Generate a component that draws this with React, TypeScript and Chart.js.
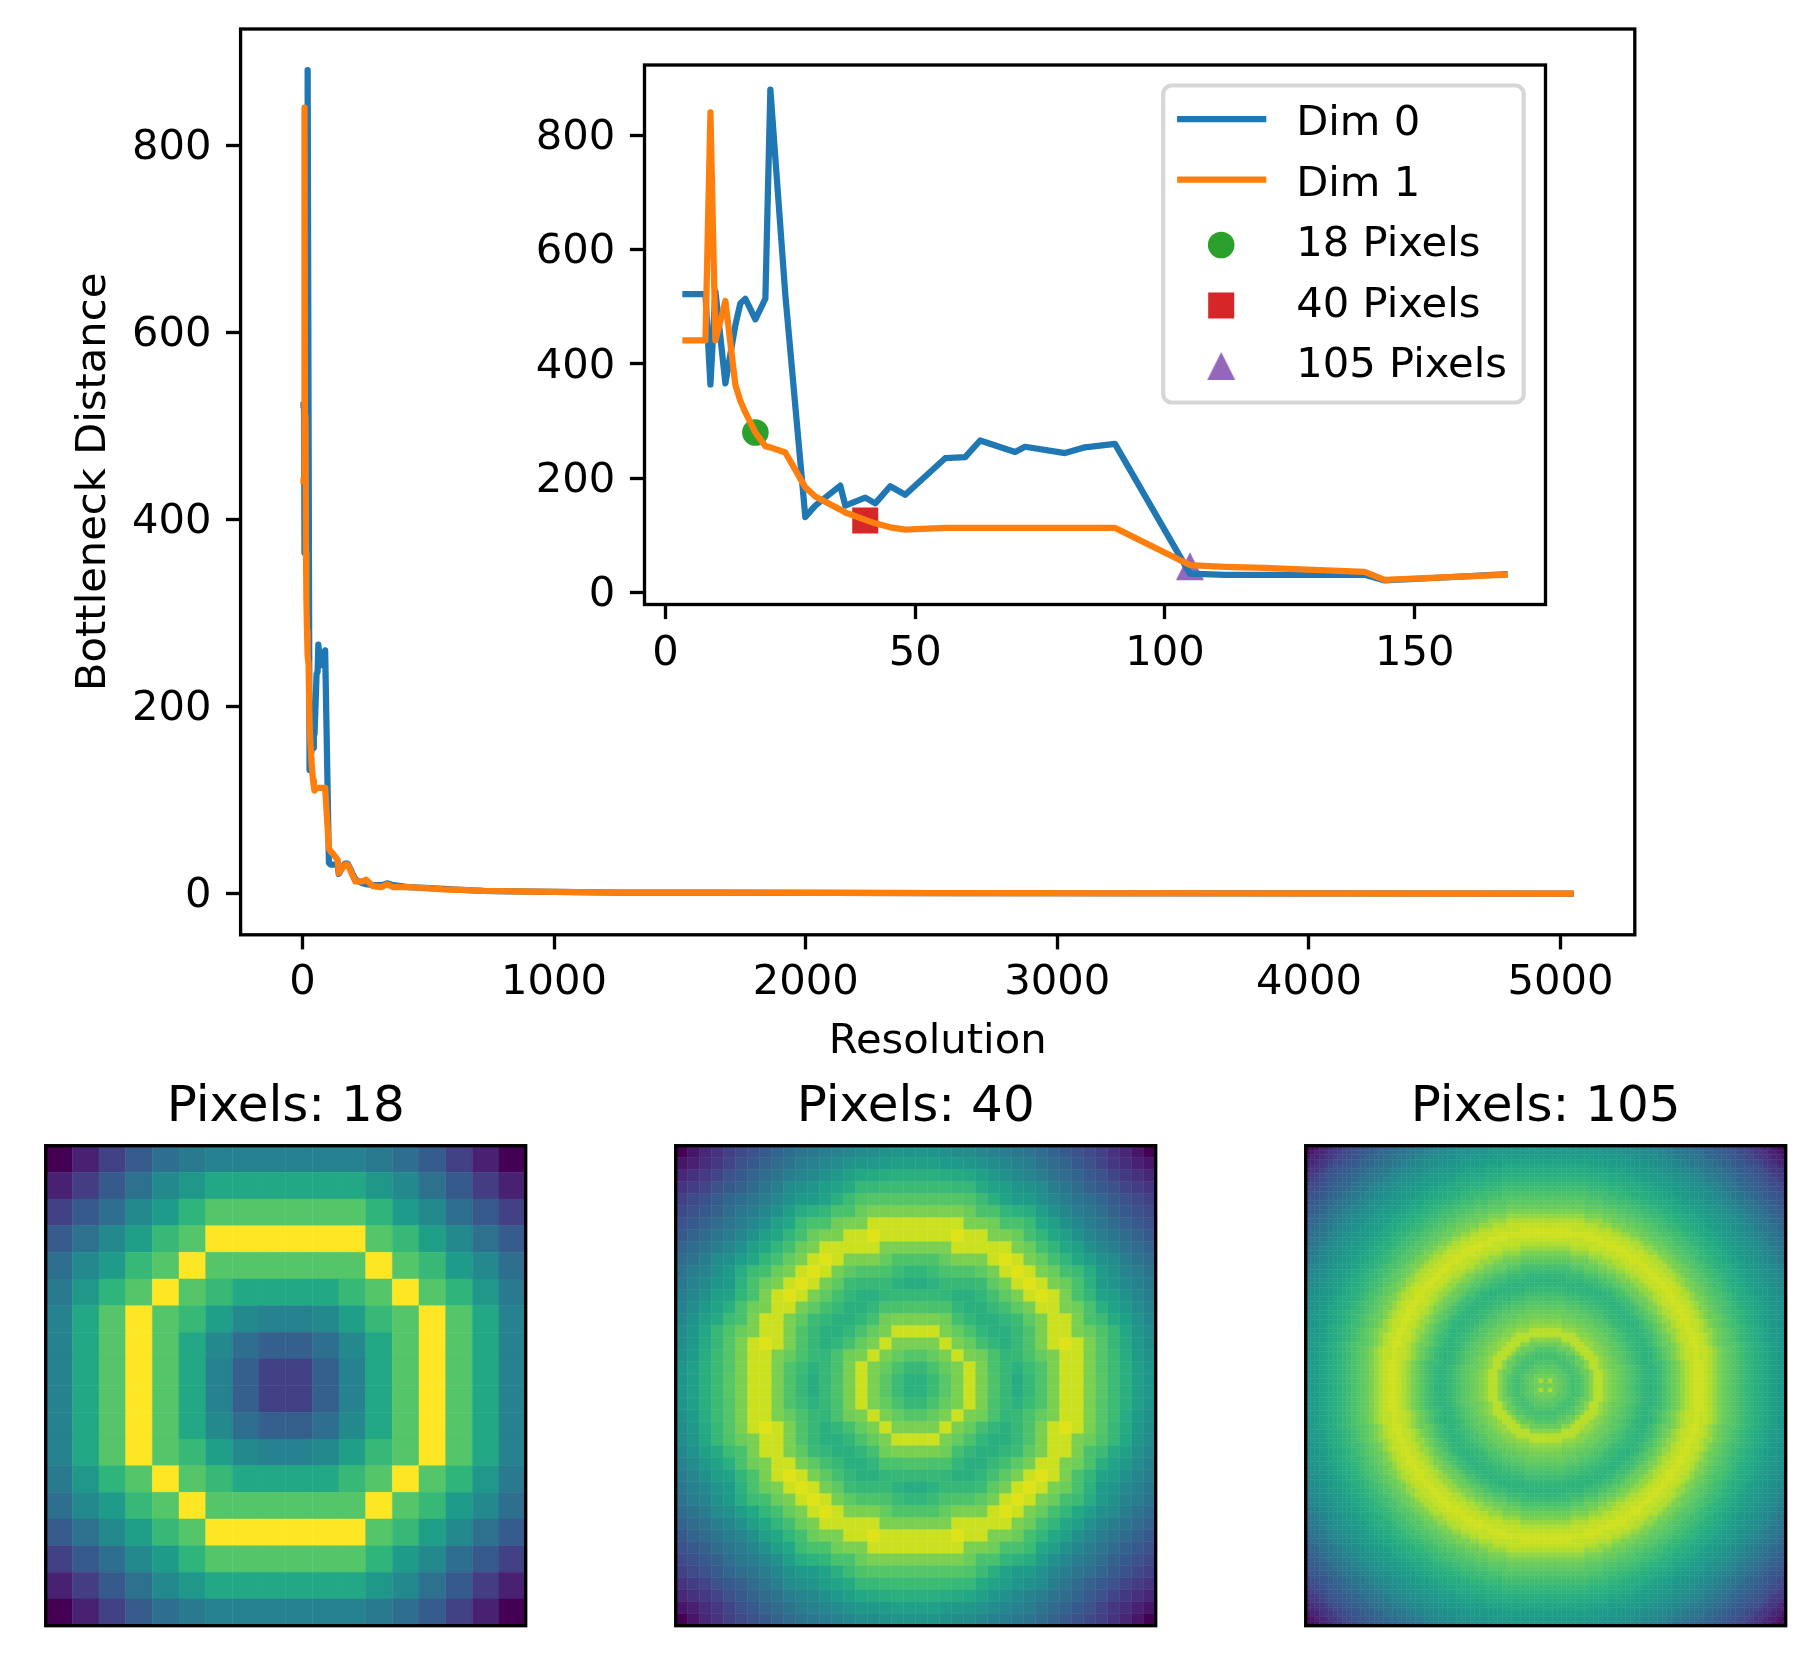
import { useEffect, useRef } from "react"
import { Chart, registerables } from "chart.js"
import { drawPoint } from "chart.js/helpers"

Chart.register(...registerables)

const FONT_FAMILY = '"DejaVu Sans"'
const TICK_SIZE = 41.67
const TITLE_SIZE = 50
const TICK_LEN = 14.6
const SPINE = 3.33

const resolutions = [
  4, 5, 6, 7, 8, 9, 10, 12, 14, 15, 16, 18, 20, 21, 24, 28, 30, 35, 36, 40, 42, 45, 48, 56, 60, 63, 70, 72, 80, 84, 90,
  105, 112, 120, 126, 140, 144, 168, 180, 210, 240, 252, 280, 315, 336, 360, 420, 504, 560, 630, 720, 840, 1008, 1260,
  1680, 2520, 5040,
]
const dim0 = [
  522, 522, 522, 522, 522, 364, 527, 366, 468, 506, 514, 478, 514, 880, 520, 132, 152, 187, 152, 166, 156, 186, 171,
  235, 237, 266, 246, 255, 244, 254, 260, 33, 31, 31, 31, 31, 21, 32, 32, 15, 11, 10, 9, 9, 11, 9, 7, 6, 5, 4, 3, 2.5,
  2, 1.2, 1, 0.5, 0.1,
]
const dim1 = [
  441, 441, 441, 441, 441, 840, 441, 510, 363, 335, 315, 280, 256, 254, 245, 184, 168, 145, 140, 127, 121, 114, 110,
  113, 113, 113, 113, 113, 113, 113, 113, 48, 45, 43, 41, 36, 22, 31, 31, 13, 13, 15, 8, 7, 10, 7, 7, 5.5, 4.5, 4, 3,
  2.5, 2, 1.2, 1, 0.5, 0.1,
]

const mainXTicks = [0, 1000, 2000, 3000, 4000, 5000]
const mainYTicks = [0, 200, 400, 600, 800]
const insetXTicks = [0, 50, 100, 150]
const insetYTicks = [0, 200, 400, 600, 800]

const pickedLabels = ["18 Pixels", "40 Pixels", "105 Pixels"]
const pickedX = [18, 40, 105]
const pickedY = [280, 126, 46]
const pickedColors = ["#2ca02c", "#d62728", "#9467bd"]

const viridis = [
  "#440154", "#471365", "#482475", "#463480", "#414487", "#3b528b", "#355f8d", "#2f6c8e", "#2a788e", "#25848e",
  "#21918c", "#1e9c89", "#22a884", "#2fb47c", "#44bf70", "#5ec962", "#7ad151", "#9bd93c", "#bddf26", "#dfe318",
  "#fde725",
]

// top left quarter of the 18 pixel image, the rest is its mirror
const quarter18 = [
  [0.0, 0.09, 0.19, 0.29, 0.36, 0.41, 0.44, 0.44, 0.44],
  [0.09, 0.18, 0.28, 0.37, 0.47, 0.53, 0.6, 0.6, 0.6],
  [0.19, 0.28, 0.36, 0.47, 0.55, 0.65, 0.73, 0.73, 0.73],
  [0.29, 0.37, 0.47, 0.56, 0.67, 0.73, 1, 1, 1],
  [0.36, 0.47, 0.55, 0.67, 0.73, 1, 0.73, 0.73, 0.73],
  [0.41, 0.53, 0.65, 0.73, 1, 0.73, 0.67, 0.6, 0.6],
  [0.44, 0.6, 0.73, 1, 0.73, 0.67, 0.56, 0.47, 0.44],
  [0.44, 0.6, 0.73, 1, 0.73, 0.6, 0.47, 0.36, 0.3],
  [0.44, 0.6, 0.73, 1, 0.73, 0.6, 0.44, 0.3, 0.19],
]

// same for the 40 pixel image
const quarter40 = [
  [0, 0.06, 0.11, 0.15, 0.19, 0.22, 0.25, 0.28, 0.32, 0.35, 0.38, 0.4, 0.42, 0.44, 0.46, 0.48, 0.49, 0.5, 0.52, 0.52],
  [0.06, 0.09, 0.13, 0.16, 0.2, 0.25, 0.28, 0.32, 0.35, 0.38, 0.42, 0.44, 0.46, 0.48, 0.51, 0.53, 0.54, 0.55, 0.57, 0.57],
  [0.11, 0.14, 0.17, 0.2, 0.25, 0.28, 0.32, 0.35, 0.38, 0.42, 0.45, 0.47, 0.5, 0.54, 0.57, 0.6, 0.61, 0.62, 0.63, 0.63],
  [0.15, 0.18, 0.2, 0.25, 0.28, 0.31, 0.35, 0.39, 0.43, 0.48, 0.5, 0.52, 0.56, 0.58, 0.61, 0.67, 0.67, 0.68, 0.68, 0.68],
  [0.19, 0.22, 0.25, 0.29, 0.33, 0.36, 0.39, 0.42, 0.46, 0.5, 0.55, 0.55, 0.58, 0.63, 0.68, 0.72, 0.73, 0.73, 0.73, 0.73],
  [0.22, 0.25, 0.28, 0.31, 0.36, 0.4, 0.42, 0.46, 0.5, 0.56, 0.62, 0.64, 0.66, 0.71, 0.71, 0.77, 0.8, 0.8, 0.8, 0.8],
  [0.25, 0.28, 0.31, 0.35, 0.39, 0.42, 0.46, 0.5, 0.57, 0.6, 0.68, 0.71, 0.71, 0.78, 0.8, 0.8, 0.92, 0.92, 0.92, 0.92],
  [0.28, 0.32, 0.35, 0.39, 0.42, 0.46, 0.5, 0.57, 0.6, 0.66, 0.7, 0.77, 0.8, 0.8, 0.92, 0.92, 0.95, 0.92, 0.92, 0.92],
  [0.32, 0.35, 0.38, 0.43, 0.46, 0.5, 0.57, 0.6, 0.66, 0.7, 0.77, 0.8, 0.92, 0.92, 0.92, 0.92, 0.92, 0.8, 0.8, 0.8],
  [0.35, 0.38, 0.42, 0.48, 0.5, 0.56, 0.6, 0.66, 0.7, 0.76, 0.8, 0.92, 0.95, 0.92, 0.8, 0.8, 0.8, 0.76, 0.72, 0.72],
  [0.38, 0.42, 0.45, 0.5, 0.55, 0.62, 0.68, 0.7, 0.77, 0.8, 0.92, 0.95, 0.92, 0.79, 0.75, 0.72, 0.72, 0.71, 0.68, 0.66],
  [0.4, 0.44, 0.47, 0.52, 0.55, 0.64, 0.71, 0.77, 0.8, 0.92, 0.95, 0.92, 0.79, 0.75, 0.68, 0.67, 0.67, 0.67, 0.64, 0.62],
  [0.42, 0.46, 0.5, 0.56, 0.58, 0.66, 0.71, 0.8, 0.92, 0.95, 0.92, 0.8, 0.75, 0.7, 0.66, 0.63, 0.63, 0.66, 0.67, 0.67],
  [0.44, 0.48, 0.54, 0.58, 0.63, 0.71, 0.78, 0.8, 0.92, 0.92, 0.79, 0.75, 0.7, 0.67, 0.63, 0.63, 0.66, 0.71, 0.71, 0.72],
  [0.46, 0.51, 0.57, 0.61, 0.68, 0.71, 0.8, 0.92, 0.92, 0.8, 0.75, 0.68, 0.66, 0.63, 0.63, 0.66, 0.7, 0.78, 0.8, 0.8],
  [0.48, 0.53, 0.6, 0.67, 0.72, 0.77, 0.8, 0.92, 0.92, 0.8, 0.72, 0.67, 0.63, 0.63, 0.66, 0.71, 0.76, 0.8, 0.92, 0.92],
  [0.49, 0.54, 0.61, 0.67, 0.73, 0.8, 0.92, 0.95, 0.92, 0.8, 0.72, 0.67, 0.63, 0.66, 0.7, 0.76, 0.8, 0.92, 0.8, 0.8],
  [0.5, 0.55, 0.62, 0.68, 0.73, 0.8, 0.92, 0.92, 0.8, 0.76, 0.71, 0.67, 0.66, 0.71, 0.78, 0.8, 0.92, 0.8, 0.76, 0.73],
  [0.52, 0.57, 0.63, 0.68, 0.73, 0.8, 0.92, 0.92, 0.8, 0.72, 0.68, 0.64, 0.67, 0.71, 0.8, 0.92, 0.8, 0.76, 0.71, 0.67],
  [0.52, 0.57, 0.63, 0.68, 0.74, 0.8, 0.92, 0.92, 0.8, 0.72, 0.67, 0.62, 0.67, 0.72, 0.8, 0.92, 0.8, 0.74, 0.68, 0.64],
]

// the 105 image is too fine to list cell by cell, it is rings around the
// centre, so it is kept as values per ring: a cell takes
// the value of the first ring limit that its distance from the centre stays under
const ringLimits105 = [
  1.2, 1.7, 2.9, 3.6, 4.5, 5.5, 6.5, 7.5, 8.5, 9.5, 10.6, 12.6, 13.5, 14.5, 15.5, 16.5, 17.5, 18.5, 19.5, 20.5, 21.5, 22.5,
  23.5, 24.5, 25.5, 26.5, 27.5, 28.5, 29.5, 30.5, 31.5, 33, 34.5, 36, 37, 38, 39, 40, 41, 42, 43, 44, 45, 46, 47, 48, 49,
  50, 51, 52.5, 53.5, 54.5, 55.5, 56.5, 57.5, 58.5, 59.5, 60.5, 61.5, 62.5, 63.5, 64.5, 65.5, 66.5, 67.5, 68.5, 69.5,
  70.5, 71.5, 72.5, 74,
]
const ringValues105 = [
  0.78, 0.87, 0.78, 0.76, 0.74, 0.72, 0.7, 0.71, 0.73, 0.77, 0.82, 0.89, 0.84, 0.81, 0.79, 0.77, 0.75, 0.73, 0.71, 0.69,
  0.67, 0.655, 0.645, 0.66, 0.68, 0.71, 0.74, 0.77, 0.8, 0.84, 0.88, 0.905, 0.925, 0.905, 0.88, 0.84, 0.8, 0.77, 0.75,
  0.73, 0.71, 0.69, 0.67, 0.65, 0.63, 0.615, 0.6, 0.58, 0.56, 0.54, 0.52, 0.5, 0.49, 0.47, 0.45, 0.42, 0.4, 0.38, 0.36,
  0.33, 0.31, 0.29, 0.27, 0.25, 0.22, 0.19, 0.16, 0.13, 0.1, 0.06, 0.03,
]

function gridFromQuarter(quarter: number[][]) {
  const half = quarter.length
  const size = half * 2
  const out: number[][] = []
  for (let r = 0; r < size; r++) {
    const row: number[] = []
    for (let c = 0; c < size; c++) {
      row.push(quarter[r < half ? r : size - 1 - r][c < half ? c : size - 1 - c])
    }
    out.push(row)
  }
  return out
}

function gridFromRings(size: number, limits: number[], values: number[]) {
  const mid = (size - 1) / 2
  const out: number[][] = []
  for (let r = 0; r < size; r++) {
    const row: number[] = []
    for (let c = 0; c < size; c++) {
      const d = Math.hypot(r - mid, c - mid)
      const i = limits.findIndex((l) => d < l)
      row.push(values[i < 0 ? values.length - 1 : i])
    }
    out.push(row)
  }
  return out
}

function hexToRgb(hex: string) {
  return [1, 3, 5].map((i) => parseInt(hex.slice(i, i + 2), 16))
}

function viridisColor(v: number) {
  const p = Math.min(0.9999, Math.max(0, v)) * (viridis.length - 1)
  const i = Math.floor(p)
  const a = hexToRgb(viridis[i])
  const b = hexToRgb(viridis[i + 1])
  const t = p - i
  const mix = a.map((x, k) => Math.round(x + (b[k] - x) * t))
  return `rgb(${mix[0]}, ${mix[1]}, ${mix[2]})`
}

// matplotlib's triangle is as high as it is wide, chart.js's is not
function triangleMarker() {
  const c = document.createElement("canvas")
  c.width = 30
  c.height = 30
  const ctx = c.getContext("2d")!
  ctx.fillStyle = pickedColors[2]
  ctx.beginPath()
  ctx.moveTo(15, 1)
  ctx.lineTo(29, 29)
  ctx.lineTo(1, 29)
  ctx.closePath()
  ctx.fill()
  return c
}

const spinesPlugin = {
  id: "spines",
  afterDraw(chart: any) {
    const { ctx, chartArea } = chart
    ctx.save()
    ctx.strokeStyle = "#000"
    ctx.lineWidth = SPINE
    ctx.strokeRect(chartArea.left, chartArea.top, chartArea.right - chartArea.left, chartArea.bottom - chartArea.top)
    ctx.restore()
  },
}

const whiteAreaPlugin = {
  id: "whiteArea",
  beforeDraw(chart: any) {
    const { ctx, chartArea } = chart
    ctx.save()
    ctx.fillStyle = "#fff"
    ctx.fillRect(chartArea.left, chartArea.top, chartArea.right - chartArea.left, chartArea.bottom - chartArea.top)
    ctx.restore()
  },
}

// matplotlib centres y tick labels a little lower than canvas "middle" does
const yLabelNudgePlugin = {
  id: "yLabelNudge",
  beforeDraw(chart: any) {
    const scale = chart.scales.y
    scale._labelItems = null
    scale.getLabelItems(chart.chartArea).forEach((item: any) => {
      item.options.translation[1] += 3
    })
  },
}

// legend box drawn the way matplotlib lays it out, inside the inset axes
const insetLegendPlugin = {
  id: "insetLegend",
  afterDraw(chart: any) {
    const { ctx } = chart
    const ox = -chart.canvas.offsetLeft
    const oy = -chart.canvas.offsetTop
    const boxX = 1163.2 + ox
    const boxY = 85.5 + oy
    const boxW = 360.5
    const boxH = 317
    ctx.save()
    ctx.beginPath()
    ctx.roundRect(boxX, boxY, boxW, boxH, 8.3)
    ctx.fillStyle = "rgba(255, 255, 255, 0.8)"
    ctx.fill()
    ctx.lineWidth = 4.17
    ctx.strokeStyle = "rgba(204, 204, 204, 0.8)"
    ctx.stroke()
    ctx.font = `${TICK_SIZE}px ${FONT_FAMILY}`
    ctx.textBaseline = "middle"
    ctx.textAlign = "left"
    chart.data.datasets.forEach((ds: any, i: number) => {
      const y = boxY + 39.5 + i * 60.5
      if (ds.showLine) {
        ctx.strokeStyle = ds.borderColor
        ctx.lineWidth = 6.25
        ctx.lineCap = "square"
        ctx.beginPath()
        ctx.moveTo(boxX + 17, y - 6)
        ctx.lineTo(boxX + 100, y - 6)
        ctx.stroke()
      } else {
        ctx.fillStyle = ds.backgroundColor
        drawPoint(ctx, { pointStyle: ds.pointStyle, radius: ds.pointRadius, rotation: 0, borderWidth: 0 }, boxX + 58, y - 1)
      }
      ctx.fillStyle = "#000"
      ctx.fillText(ds.label, boxX + 133, y - 0.5)
    })
    ctx.restore()
  },
}

function lineDataset(label: string, xs: number[], ys: number[], color: string, order: number) {
  return {
    label,
    data: xs.map((x, i) => ({ x, y: ys[i] })),
    showLine: true,
    borderColor: color,
    backgroundColor: color,
    borderWidth: 6.25,
    borderCapStyle: "square",
    borderJoinStyle: "round",
    tension: 0,
    pointRadius: 0,
    order,
  }
}

function axisOptions(
  min: number,
  max: number,
  tickValues: number[],
  fitSize: (s: any) => void,
  tickPadding: number,
  title?: { text: string; padding: number }
) {
  return {
    type: "linear",
    min,
    max,
    afterBuildTicks: (s: any) => {
      s.ticks = tickValues.map((value) => ({ value }))
    },
    afterFit: (s: any) => {
      fitSize(s)
      // labels may hang over the axes, the canvas has room for them
      s.paddingLeft = s.paddingRight = s.paddingTop = s.paddingBottom = 0
    },
    grid: {
      display: true,
      drawOnChartArea: false,
      drawTicks: true,
      tickLength: TICK_LEN,
      tickWidth: SPINE,
      tickColor: "#000",
    },
    border: { display: false },
    ticks: {
      color: "#000",
      font: { family: FONT_FAMILY, size: TICK_SIZE },
      padding: tickPadding,
      maxRotation: 0,
      minRotation: 0,
      autoSkip: false,
      callback: (value: number) => `${value}`,
    },
    title: title
      ? {
          display: true,
          text: title.text,
          color: "#000",
          font: { family: FONT_FAMILY, size: TICK_SIZE },
          padding: title.padding,
        }
      : { display: false },
  }
}

function MainChart() {
  const chartRef = useRef<HTMLCanvasElement>(null)
  useEffect(() => {
    if (!chartRef.current) return
    const width = 1814
    const height = 1085
    const chart = new Chart(chartRef.current, {
      type: "scatter",
      data: {
        datasets: [
          lineDataset("Dim 0", resolutions, dim0, "#1f77b4", 2),
          lineDataset("Dim 1", resolutions, dim1, "#ff7f0e", 1),
        ] as any,
      },
      plugins: [yLabelNudgePlugin, spinesPlugin],
      options: {
        responsive: false,
        animation: false,
        events: [],
        layout: { autoPadding: false, padding: { left: 0, top: 29, right: width - 1634.8, bottom: 0 } },
        plugins: { legend: { display: false }, title: { display: false }, tooltip: { enabled: false } },
        scales: {
          x: axisOptions(-246, 5295, mainXTicks, (s) => (s.height = height - 934.8), 9, {
            text: "Resolution",
            padding: 18,
          }),
          y: axisOptions(-44, 924, mainYTicks, (s) => (s.width = 240.6), 14.6, {
            text: "Bottleneck Distance",
            padding: 69.5,
          }),
        } as any,
      },
    })
    return () => chart.destroy()
  }, [])
  return (
    <canvas ref={chartRef} width={1814} height={1085} style={{ position: "absolute", left: 0, top: 0 }}></canvas>
  )
}

function InsetChart() {
  const chartRef = useRef<HTMLCanvasElement>(null)
  useEffect(() => {
    if (!chartRef.current) return
    const left = 500
    const top = 30
    const width = 1100
    const height = 680
    const shown = resolutions.filter((x) => x <= 168)
    const triangle = triangleMarker()
    const pickedStyles = ["circle", "rect", triangle]
    const pickedRadius = [13.3, 18.4, 14]
    const chart = new Chart(chartRef.current, {
      type: "scatter",
      data: {
        datasets: [
          lineDataset("Dim 0", shown, dim0, "#1f77b4", 2),
          lineDataset("Dim 1", shown, dim1, "#ff7f0e", 1),
          ...pickedLabels.map((label, i) => ({
            label,
            data: [{ x: pickedX[i], y: pickedY[i] }],
            showLine: false,
            backgroundColor: pickedColors[i],
            pointStyle: pickedStyles[i],
            pointRadius: pickedRadius[i],
            pointBorderWidth: 0,
            order: 3,
          })),
        ] as any,
      },
      plugins: [whiteAreaPlugin, yLabelNudgePlugin, spinesPlugin, insetLegendPlugin],
      options: {
        responsive: false,
        animation: false,
        events: [],
        layout: { autoPadding: false, padding: { left: 0, top: 65 - top, right: width - (1545.5 - left), bottom: 0 } },
        plugins: { legend: { display: false }, title: { display: false }, tooltip: { enabled: false } },
        scales: {
          x: axisOptions(-4.2, 176.2, insetXTicks, (s) => (s.height = height - (604.5 - top)), 10.5),
          y: axisOptions(-21, 923, insetYTicks, (s) => (s.width = 644.5 - left), 14.6),
        } as any,
      },
    })
    return () => chart.destroy()
  }, [])
  return (
    <canvas ref={chartRef} width={1100} height={680} style={{ position: "absolute", left: 500, top: 30 }}></canvas>
  )
}

function PixelImage({ title, grid, boxLeft }: { title: string; grid: number[][]; boxLeft: number }) {
  const chartRef = useRef<HTMLCanvasElement>(null)
  const canvasLeft = Math.floor(boxLeft) - 40
  const canvasWidth = 556
  useEffect(() => {
    if (!chartRef.current) return
    const size = grid.length
    const points: { x: number; y: number }[] = []
    const colors: string[] = []
    grid.forEach((row, r) =>
      row.forEach((v, c) => {
        points.push({ x: c + 0.5, y: r + 0.5 })
        colors.push(viridisColor(v))
      })
    )
    // rect point style: side = radius * sqrt(2)
    const cell = 480 / size
    const chart = new Chart(chartRef.current, {
      type: "scatter",
      data: {
        datasets: [
          {
            label: title,
            data: points,
            pointStyle: "rect",
            pointRadius: (cell / 2) * Math.SQRT2,
            pointBackgroundColor: colors,
            pointBorderColor: colors,
            pointBorderWidth: 0.5,
          },
        ] as any,
      },
      plugins: [spinesPlugin],
      options: {
        responsive: false,
        animation: false,
        events: [],
        layout: {
          autoPadding: false,
          padding: {
            left: boxLeft - canvasLeft,
            right: canvasWidth - 480 - (boxLeft - canvasLeft),
            top: 0,
            bottom: 44.3,
          },
        },
        plugins: {
          legend: { display: false },
          tooltip: { enabled: false },
          title: {
            display: true,
            text: title,
            color: "#000",
            font: { family: FONT_FAMILY, size: TITLE_SIZE, weight: "normal" },
            padding: { top: 18.3, bottom: 7.4 },
          },
        },
        scales: {
          x: { type: "linear", display: false, min: 0, max: size },
          y: { type: "linear", display: false, min: 0, max: size, reverse: true },
        },
      },
    })
    return () => chart.destroy()
  }, [])
  return (
    <canvas
      ref={chartRef}
      width={canvasWidth}
      height={610}
      style={{ position: "absolute", left: canvasLeft, top: 1060 }}
    ></canvas>
  )
}

export default function App() {
  return (
    <div style={{ position: "absolute", left: 0, top: 0, width: 1814, height: 1670, background: "#fff" }}>
      <MainChart />
      <InsetChart />
      <PixelImage title="Pixels: 18" grid={gridFromQuarter(quarter18)} boxLeft={45.7} />
      <PixelImage title="Pixels: 40" grid={gridFromQuarter(quarter40)} boxLeft={675.7} />
      <PixelImage title="Pixels: 105" grid={gridFromRings(105, ringLimits105, ringValues105)} boxLeft={1305.7} />
    </div>
  )
}
